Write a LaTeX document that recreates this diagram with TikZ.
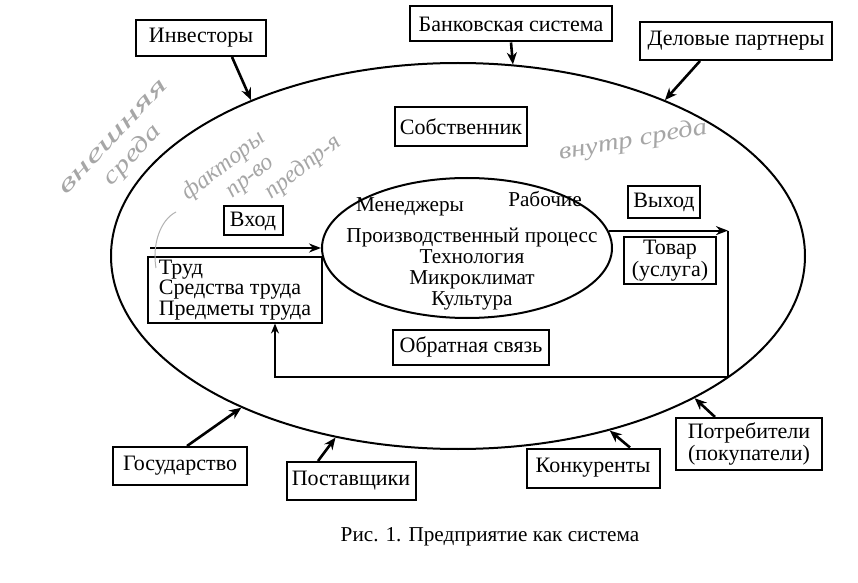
\documentclass[tikz,border=0pt]{standalone}
\usepackage{fontspec}
\setmainfont{Liberation Serif}
\usetikzlibrary{shapes.geometric,arrows.meta,calc}
\begin{document}
\begin{tikzpicture}[x=0.5pt,y=-0.5pt,
  box/.style={draw,line width=1pt,inner sep=2pt,font=\fontsize{11}{12.5}\selectfont,align=center},
  txt/.style={font=\fontsize{10.6}{10.4}\selectfont,inner sep=0pt,align=center},
  arr/.style={line width=1.3pt,-{Stealth[length=6pt,width=5pt]}},
  flow/.style={line width=1.1pt,-{Stealth[length=6pt,width=4.5pt]}},
  fb/.style={line width=0.8pt,-{Stealth[length=5pt,width=4pt]}},
  note/.style={text=black!35,font=\itshape\fontsize{12}{12.5}\selectfont,inner sep=0pt},
  pencil/.style={draw=black!30,line width=0.5pt}]
\useasboundingbox (0,0) rectangle (858,583);
\fill[white] (0,0) rectangle (858,583);

% ellipses
\node[draw,ellipse,line width=1pt,minimum width=347pt,minimum height=193pt,inner sep=0pt] (outer) at (458,256) {};
\node[draw,ellipse,line width=1pt,minimum width=145pt,minimum height=70pt,inner sep=0pt] (inner) at (467,248) {};

% inner texts
\node[txt] (men) at (410,207) {Менеджеры};
\node[txt] (rab) at (545,199) {Рабочие};
\node[txt] (proc) at (472,269) {Производственный процесс\\Технология\\Микроклимат\\Культура};

% outer boxes
\node[box,minimum width=65pt,minimum height=18pt] (inv) at (201,38) {Инвесторы};
\node[box,minimum width=101pt,minimum height=17.5pt] (bank) at (511,24) {Банковская система};
\node[box,minimum width=96pt,minimum height=19pt] (del) at (736,41) {Деловые партнеры};
\node[box,minimum width=67pt,minimum height=19pt] (gos) at (180,466) {Государство};
\node[box,minimum width=64.5pt,minimum height=19pt] (post) at (351,481) {Поставщики};
\node[box,minimum width=66.5pt,minimum height=19.5pt] (konk) at (593,468) {Конкуренты};
\node[box,minimum width=73pt,minimum height=26pt,inner sep=1pt,font=\fontsize{11}{11}\selectfont] (potr) at (749,444) {Потребители\\(покупатели)};

% inner boxes
\node[box,minimum width=66pt,minimum height=19.5pt] (sob) at (461,127) {Собственник};
\node[box,minimum width=29.5pt,minimum height=14.5pt] (vhod) at (253,221) {Вход};
\node[box,minimum width=36pt,minimum height=16pt] (vyh) at (664,202) {Выход};
\node[box,minimum width=87pt,minimum height=32.5pt,inner sep=1pt,align=left,font=\fontsize{11}{10.4}\selectfont] (trud) at (235,290) {Труд\\Средства труда\\Предметы труда};
\node[box,minimum width=46pt,minimum height=23.5pt,inner sep=1pt,font=\fontsize{11}{11}\selectfont] (tovar) at (670,261) {Товар\\(услуга)};
\node[box,minimum width=78pt,minimum height=17.5pt] (obr) at (471,347) {Обратная связь};

% environment arrows
\draw[arr] ([xshift=15.5pt]inv.south) -- (outer.143);
\draw[arr] (bank.south) -- (outer.74);
\draw[arr] ([xshift=-18pt]del.south) -- (outer.37);
\draw[arr] ([xshift=3.5pt]gos.north) -- (outer.215);
\draw[arr] ([xshift=-16.5pt]post.north) -- (outer.236);
\draw[arr] ([xshift=18.5pt]konk.north) -- (outer.311.5);
\draw[arr] ([xshift=-17pt]potr.north) -- (outer.329);

% input / output / feedback
\coordinate (inS) at (150,248);
\coordinate (outE) at (728,230);
\coordinate (fbR) at (728,377);
\coordinate (fbL) at (275,377);
\draw[flow] (inS) -- (inner.west);
\draw[flow] (inner.7) -- (inner.7 -| outE);
\draw[fb] (inner.7 -| outE) -- (fbR) -- (fbL) -- (fbL |- trud.south);

% handwritten pencil notes
\node[note,rotate=47,align=center] (n1) at (125,148) {\scalebox{1.75}[1]{внешняя}\\[1pt]\scalebox{1.3}[1]{среда}};
\node[note,rotate=38,align=left] (n2) at (262,168) {факторы\\\hspace*{18pt}пр-во\\\hspace*{33pt}предпр-я};
\node[note,rotate=10] (n3) at (633,141) {\scalebox{1.2}[1]{внутр среда}};
\coordinate (p1) at (176,212);
\coordinate (p2) at (156,268);
\draw[pencil] (p1) .. controls (160,220) and (152,245) .. (p2);

% caption
\node[txt] (cap) at (490,537) {Рис. 1. Предприятие как система};
\end{tikzpicture}
\end{document}
